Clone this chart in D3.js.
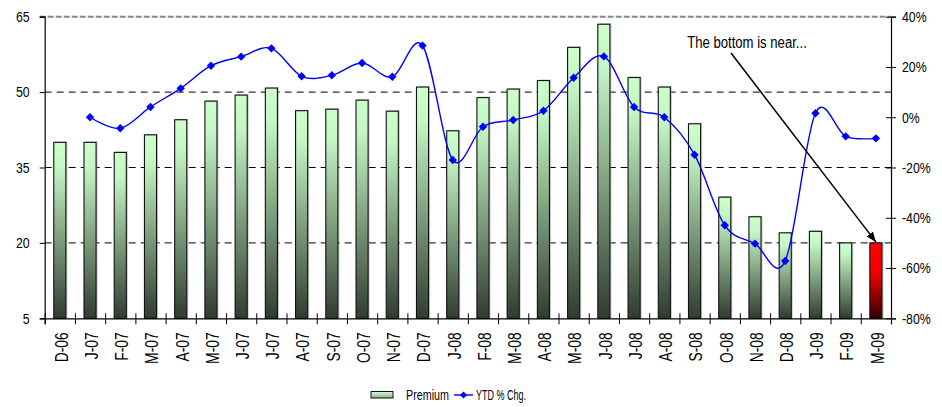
<!DOCTYPE html>
<html>
<head>
<meta charset="utf-8">
<script src="https://cdn.jsdelivr.net/npm/d3@7"></script>
<style>
  html, body { margin: 0; padding: 0; background: #fff; }
  svg { display: block; }
  text { font-family: 'Liberation Sans', Arial, sans-serif; fill: #000; }
</style>
</head>
<body>
<svg id="chart" width="942" height="407"></svg>
<script>
// Monthly premium (left axis) and year-to-date % change (right axis)
const categories = ["D-06","J-07","F-07","M-07","A-07","M-07","J-07","J-07","A-07","S-07","O-07","N-07",
  "D-07","J-08","F-08","M-08","A-08","M-08","J-08","J-08","A-08","S-08","O-08","N-08","D-08","J-09","F-09","M-09"];
const premium = [40, 40, 38, 41.5, 44.5, 48.2, 49.4, 50.8, 46.3, 46.6, 48.4, 46.2,
  51, 42.3, 48.9, 50.6, 52.3, 58.9, 63.5, 52.9, 51, 43.7, 29.1, 25.2, 22, 22.3, 20, 20];
const ytdChange = [null, 0, -4.4, 4.1, 11.5, 20.5, 24.1, 27.4, 16.3, 16.7, 21.6, 16.1,
  28.5, -17, -3.8, -1.1, 2.6, 15.7, 24.2, 4.1, 0, -14.9, -43, -50.3, -57.2, 1.6, -7.6, -8.4];
const leftTicks = [5, 20, 35, 50, 65];
const rightTicks = [-80, -60, -40, -20, 0, 20, 40];
const highlightLabel = "M-09";
const seriesNames = ["Premium", "YTD % Chg."];
const annotationText = "The bottom is near...";

const svg = d3.select("#chart");
const x0 = 44.7, x1 = 891, yTop = 16.7, yBot = 318.3;
const n = categories.length;

// condensed lettering: squeeze each label horizontally
function narrow(sel, k = 0.82) {
  sel.each(function () {
    const w = this.getComputedTextLength();
    d3.select(this).attr("textLength", w * k).attr("lengthAdjust", "spacingAndGlyphs");
  });
}

const xBand = d3.scaleBand().domain(d3.range(n)).range([x0, x1]).paddingInner(0.6).paddingOuter(0.3);
const xEdge = d3.scaleLinear().domain([0, n]).range([x0, x1]);
const yL = d3.scaleLinear().domain([5, 65]).range([yBot, yTop]);
const yR = d3.scaleLinear().domain([-80, 40]).range([yBot, yTop]);
const cx = i => xBand(i) + xBand.bandwidth() / 2;

// gradients
const defs = svg.append("defs");
function vGrad(id, stops) {
  const g = defs.append("linearGradient").attr("id", id).attr("x1", 0).attr("y1", 0).attr("x2", 0).attr("y2", 1);
  stops.forEach(s => g.append("stop").attr("offset", s[0]).attr("stop-color", s[1]));
}
vGrad("gGreen", [[0, "#ccffcc"], [0.15, "#c4f5c4"], [1, "#303c30"]]);
vGrad("gRed", [[0, "#ff0000"], [0.4, "#f00000"], [1, "#330000"]]);
vGrad("gLegend", [[0, "#d6ffd6"], [1, "#8fb38f"]]);
defs.append("marker").attr("id", "arrow").attr("viewBox", "0 0 10 10").attr("refX", 10).attr("refY", 5)
  .attr("markerWidth", 10).attr("markerHeight", 10).attr("markerUnits", "userSpaceOnUse").attr("orient", "auto")
  .append("path").attr("d", "M0,1 L10,5 L0,9 Z").attr("fill", "#000");

// gridlines
svg.append("g").selectAll("line").data(leftTicks.filter(v => v > 5 && v < 65)).join("line")
  .attr("x1", x0).attr("x2", x1).attr("y1", d => yL(d)).attr("y2", d => yL(d))
  .attr("stroke", "#000").attr("stroke-width", 1).attr("stroke-dasharray", "7,5");
svg.append("line").attr("x1", x0 - 5).attr("x2", x1).attr("y1", yL(65)).attr("y2", yL(65))
  .attr("stroke", "#8a8a8a").attr("stroke-width", 2).attr("stroke-dasharray", "6,2");

// bars with a soft shadow
const bars = svg.append("g");
bars.selectAll("rect.shadow").data(premium).join("rect").attr("class", "shadow")
  .attr("x", (d, i) => xBand(i) + 1.5).attr("y", d => yL(d) - 1)
  .attr("width", xBand.bandwidth()).attr("height", d => yBot - yL(d) + 1)
  .attr("fill", "#9a9a9a").attr("opacity", 0.55);
bars.selectAll("rect.bar").data(premium).join("rect").attr("class", "bar")
  .attr("x", (d, i) => xBand(i)).attr("y", d => yL(d))
  .attr("width", xBand.bandwidth()).attr("height", d => yBot - yL(d))
  .attr("fill", (d, i) => categories[i] === highlightLabel && i === n - 1 ? "url(#gRed)" : "url(#gGreen)")
  .attr("stroke", "#111").attr("stroke-width", 1.1);

// YTD line
const pts = ytdChange.map((v, i) => ({ i, v })).filter(d => d.v !== null);
const line = d3.line().x(d => cx(d.i)).y(d => yR(d.v)).curve(d3.curveCardinal.tension(0));
svg.append("path").datum(pts).attr("d", line).attr("fill", "none").attr("stroke", "#0000ff").attr("stroke-width", 1.4);
const diamond = (x, y, r) => `M${x},${y - r}L${x + r},${y}L${x},${y + r}L${x - r},${y}Z`;
svg.append("g").selectAll("path").data(pts).join("path")
  .attr("d", d => diamond(cx(d.i), yR(d.v), 4.2)).attr("fill", "#0000ff");

// left axis
const axL = svg.append("g").attr("transform", `translate(${x0},0)`)
  .call(d3.axisLeft(yL).tickValues(leftTicks).tickSize(5).tickPadding(10));
axL.select(".domain").attr("stroke", "#000").attr("stroke-width", 1.2);
axL.selectAll("text").attr("font-size", 15).attr("font-family", null).call(narrow);

// right axis
const pct = v => `${v}%`;
const axR = svg.append("g").attr("transform", `translate(${x1},0)`)
  .call(d3.axisRight(yR).tickValues(rightTicks).tickFormat(pct).tickSize(5).tickPadding(6));
axR.select(".domain").attr("stroke", "#000").attr("stroke-width", 1.2);
axR.selectAll(".tick line").attr("x1", -5);
axR.selectAll("text").attr("font-size", 15).attr("font-family", null).call(narrow);

// bottom axis: boundary ticks + rotated month labels
const axB = svg.append("g").attr("transform", `translate(0,${yBot})`)
  .call(d3.axisBottom(xEdge).tickValues(d3.range(n + 1)).tickFormat("").tickSize(6));
axB.select(".domain").attr("stroke", "#000").attr("stroke-width", 1.2);
axB.selectAll(".tick line").attr("y1", -5);
const axLab = svg.append("g").attr("transform", `translate(0,${yBot})`)
  .call(d3.axisBottom(xBand).tickFormat(i => categories[i]).tickSize(0));
axLab.select(".domain").remove();
axLab.selectAll("text").attr("font-size", 18).attr("font-family", null)
  .attr("transform", "rotate(-90)").attr("text-anchor", "end")
  .attr("x", -14).attr("y", 1.5).attr("dy", "0.35em").call(narrow, 0.77);

// annotation
svg.append("text").attr("x", 747).attr("y", 48).attr("text-anchor", "middle").attr("font-size", 16)
  .text(annotationText).call(narrow);
svg.append("line").attr("x1", 731).attr("y1", 53).attr("x2", cx(n - 1)).attr("y2", yL(premium[n - 1]) - 1)
  .attr("stroke", "#000").attr("stroke-width", 1.5).attr("marker-end", "url(#arrow)");

// legend
const lg = svg.append("g");
lg.append("rect").attr("x", 371).attr("y", 391.5).attr("width", 22).attr("height", 6.5)
  .attr("fill", "url(#gLegend)").attr("stroke", "#111").attr("stroke-width", 1);
lg.append("text").attr("x", 406).attr("y", 395).attr("dy", "0.35em").attr("font-size", 15)
  .text(seriesNames[0]).attr("textLength", 43).attr("lengthAdjust", "spacingAndGlyphs");
lg.append("line").attr("x1", 454).attr("x2", 473).attr("y1", 395).attr("y2", 395).attr("stroke", "#0000ff").attr("stroke-width", 1.4);
lg.append("path").attr("d", diamond(463.5, 395, 3.5)).attr("fill", "#0000ff");
lg.append("text").attr("x", 476).attr("y", 395).attr("dy", "0.35em").attr("font-size", 15)
  .text(seriesNames[1]).attr("textLength", 50).attr("lengthAdjust", "spacingAndGlyphs");
</script>
</body>
</html>
